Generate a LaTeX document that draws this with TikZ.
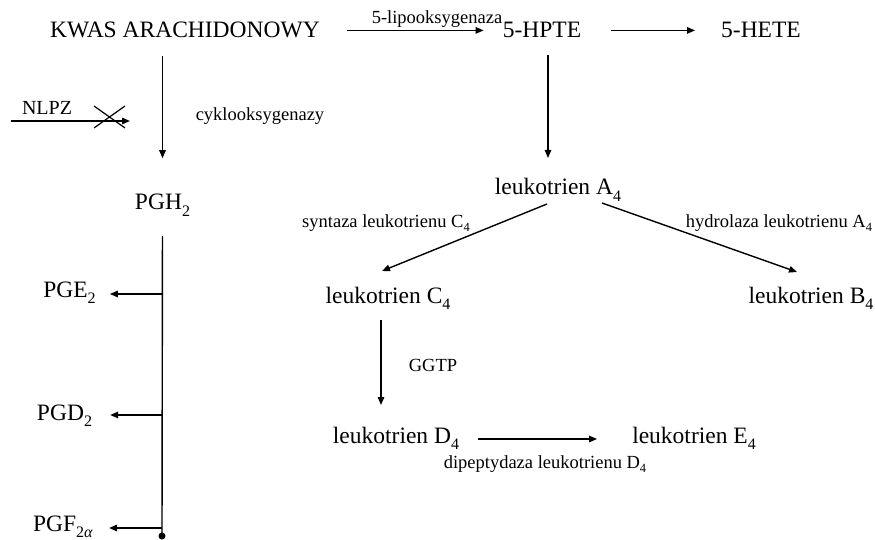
\documentclass[tikz,border=0pt]{standalone}
\usepackage{fontspec}
\setmainfont{Liberation Serif}
\usetikzlibrary{arrows.meta}
\newcommand\sbig[1]{\raisebox{-6pt}{\fontsize{16}{16}\selectfont #1}}
\newcommand\ssml[1]{\raisebox{-4.5pt}{\fontsize{12.5}{13}\selectfont #1}}
\begin{document}
\begin{tikzpicture}[x=1pt,y=-1pt,
  big/.style={font=\fontsize{23.5}{26}\selectfont, inner sep=0pt, anchor=base},
  mid/.style={font=\fontsize{20}{22}\selectfont, inner sep=0pt, anchor=base},
  small/.style={font=\fontsize{18.5}{20}\selectfont, inner sep=0pt, anchor=base},
  arr/.style={line width=1.4pt, -{Triangle[length=8pt,width=6.5pt]}},
  ln/.style={line width=1.4pt}]
\useasboundingbox (0,0) rectangle (875,540);
% top row
\node[big] (kwas) at (185,38) {KWAS ARACHIDONOWY};
\node[big] (hpte) at (542,38) {5-HPTE};
\node[big] (hete) at (761,38) {5-HETE};
\node[small] (lipo) at (437,24) {5-lipooksygenaza};
\draw[arr, shorten <=27pt, shorten >=19pt] (kwas.east) -- (kwas.east -| hpte.west);
\draw[arr, shorten <=30pt, shorten >=26pt] (hpte.east) -- (hpte.east -| hete.west);
% left branch
\node[small] (cyk) at (260,121) {cyklooksygenazy};
\node[mid] (nlpz) at (47,115) {NLPZ};
\coordinate (nlpzS) at (11,121);
\coordinate (nlpzE) at (130,121);
\draw[arr] (nlpzS) -- (nlpzE);
\coordinate (xa) at (94,106);
\coordinate (xb) at (125,128);
\coordinate (xc) at (94,128);
\coordinate (xd) at (125,106);
\draw[line width=1.2pt] (xa) -- (xb);
\draw[line width=1.2pt] (xc) -- (xd);
\node[big] (pgh) at (162.5,210) {PGH\sbig{2}};
\draw[arr, shorten <=17pt, shorten >=36pt] (kwas.south -| pgh.north) -- (pgh.north);
\node[circle, fill, inner sep=0pt, minimum size=7pt] (dot) at (162,536) {};
\draw[ln, shorten <=20pt] (pgh.south) -- (dot.center);
\node[big] (pge) at (69.5,297) {PGE\sbig{2}};
\node[big] (pgd) at (64.5,420) {PGD\sbig{2}};
\node[big] (pgf) at (63,531) {PGF\sbig{2\textit{α}}};
\path ([yshift=3pt]pge.base east) coordinate (pgeE);
\path ([yshift=5pt]pgd.base east) coordinate (pgdE);
\path ([yshift=3pt]pgf.base east) coordinate (pgfE);
\draw[arr, shorten >=14pt] (pgeE -| dot) -- (pgeE);
\draw[arr, shorten >=18pt] (pgdE -| dot) -- (pgdE);
\draw[arr, shorten >=16pt] (pgfE -| dot) -- (pgfE);
% right branch
\node[big] (lta) at (558,195) {leukotrien A\sbig{4}};
\draw[arr] ([xshift=6pt,yshift=-17pt]hpte.base) -- ([xshift=-10pt,yshift=37pt]lta.base);
\node[small] (syn) at (386,227) {syntaza leukotrienu C\ssml{4}};
\node[small] (hyd) at (779,227) {hydrolaza leukotrienu A\ssml{4}};
\node[big] (ltc) at (388,303) {leukotrien C\sbig{4}};
\node[big] (ltb) at (811,303) {leukotrien B\sbig{4}};
\draw[arr] ([xshift=-11pt,yshift=-9pt]lta.base) -- ([xshift=-6pt,yshift=32pt]ltc.base);
\draw[arr] ([xshift=44pt,yshift=-8pt]lta.base) -- ([xshift=-14pt,yshift=31pt]ltb.base);
\node[small] (ggtp) at (433,371) {GGTP};
\node[big] (ltd) at (396,443) {leukotrien D\sbig{4}};
\node[big] (lte) at (694,443) {leukotrien E\sbig{4}};
\draw[arr] ([xshift=-7pt,yshift=-17pt]ltc.base) -- ([xshift=-15pt,yshift=38pt]ltd.base);
\node[small] (dip) at (545,468) {dipeptydaza leukotrienu D\ssml{4}};
\draw[arr, shorten <=19pt, shorten >=35pt] ([yshift=4pt]ltd.base east) -- ([yshift=4pt]ltd.base east -| lte.west);
\end{tikzpicture}
\end{document}
